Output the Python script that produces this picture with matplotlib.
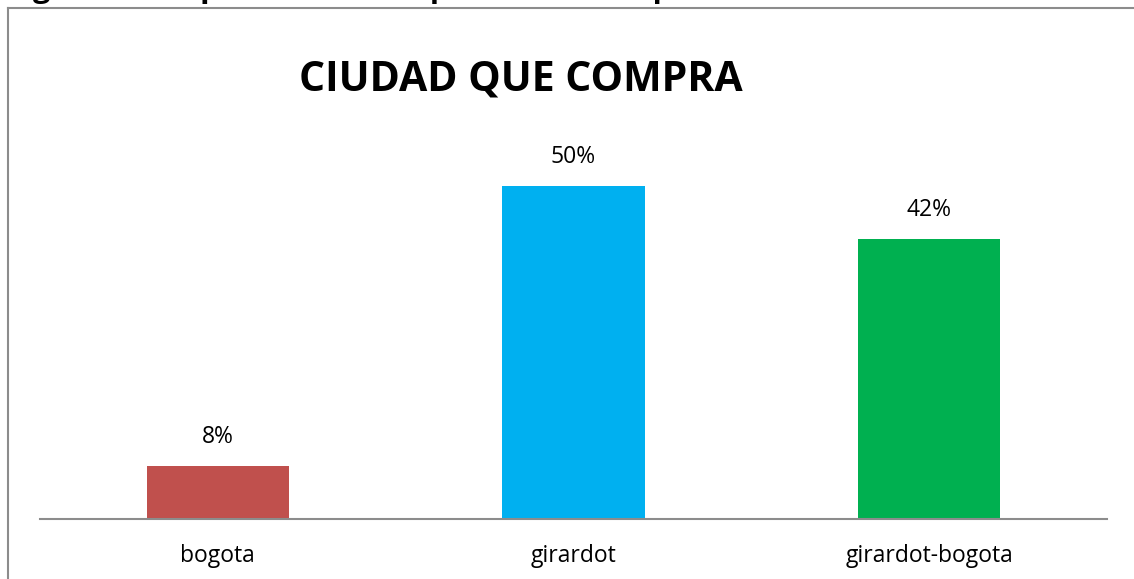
import matplotlib.pyplot as plt
from matplotlib.lines import Line2D

# data
categories = ['bogota', 'girardot', 'girardot-bogota']
values = [0.08, 0.50, 0.42]
labels = ['8%', '50%', '42%']
colors = ['#C0504D', '#00B0F0', '#00B050']

W, H = 1134, 579
plt.rcParams['font.family'] = ['Open Sans', 'DejaVu Sans']

fig = plt.figure(figsize=(W / 100, H / 100), dpi=100)

# chart frame (cut off on right and bottom)
fig.add_artist(Line2D([8 / W, 8 / W], [0, 1 - 8 / H], color='#8c8c8c', lw=1.5))
fig.add_artist(Line2D([8 / W, 1], [1 - 8 / H, 1 - 8 / H], color='#8c8c8c', lw=1.5))

# caption above the chart, almost entirely cut off by the crop
fig.text(33 / W, 1 + 3.5 / H, 'gráfica de que ciudad compran materias primas',
         fontsize=22, fontweight='bold', ha='left', va='baseline')

ax = fig.add_axes([40 / W, 60 / H, 1067 / W, 400 / H])
x = range(len(categories))
ax.bar(x, values, width=0.4, color=colors)
for xi, v, lab in zip(x, values, labels):
    ax.annotate(lab, (xi, v), xytext=(0, 12), textcoords='offset points',
                ha='center', va='bottom', fontsize=16.5)

ax.set_xlim(-0.5, 2.5)
ax.set_ylim(0, 0.6)
ax.set_xticks(list(x))
ax.set_xticklabels(categories, fontsize=16.5)
ax.tick_params(axis='x', length=0, pad=18)
ax.set_yticks([])
for side in ['left', 'right', 'top']:
    ax.spines[side].set_visible(False)
ax.spines['bottom'].set_color('#8c8c8c')
ax.spines['bottom'].set_linewidth(1.5)

fig.text(521 / W, 1 - 80 / H, 'CIUDAD QUE COMPRA', fontsize=29.5, fontweight='bold',
         ha='center', va='center')

fig.savefig('out.png', dpi=100)
